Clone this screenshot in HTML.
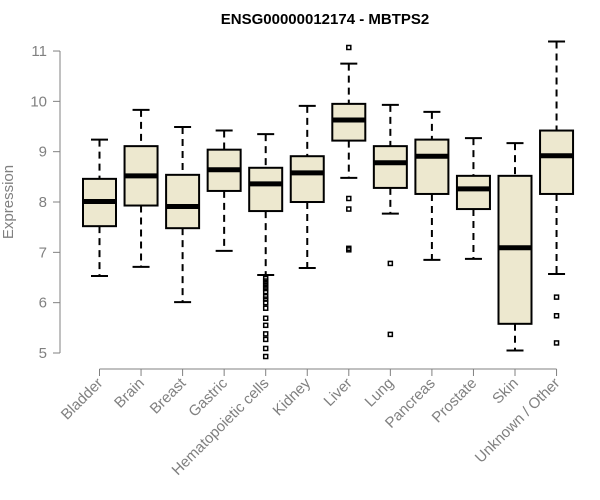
<!DOCTYPE html>
<html><head><meta charset="utf-8"><style>
body{margin:0;background:#fff;}
svg{display:block;font-family:"Liberation Sans",Arial,sans-serif;}
</style></head><body>
<svg id="chart" width="600" height="500" viewBox="0 0 600 500">
<text x="325" y="24" text-anchor="middle" font-size="15" font-weight="bold" fill="#000">ENSG00000012174 - MBTPS2</text>
<text transform="translate(13,202) rotate(-90)" text-anchor="middle" font-size="15" fill="#808080">Expression</text>
<g id="plot"></g>
</svg>
<script>
const categories=["Bladder","Brain","Breast","Gastric","Hematopoietic cells","Kidney","Liver","Lung","Pancreas","Prostate","Skin","Unknown / Other"];
const lowWhisker=[6.53,6.71,6.01,7.03,6.55,6.69,8.48,7.77,6.85,6.87,5.05,6.57];
const q1=[7.52,7.93,7.48,8.22,7.82,8.00,9.22,8.28,8.16,7.86,5.58,8.16];
const medians=[8.01,8.52,7.91,8.64,8.36,8.58,9.63,8.78,8.91,8.26,7.09,8.92];
const q3=[8.46,9.11,8.54,9.04,8.68,8.91,9.95,9.11,9.24,8.52,8.52,9.42];
const highWhisker=[9.24,9.83,9.49,9.42,9.35,9.91,10.75,9.93,9.79,9.27,9.17,11.19];
const outliers=[[],[],[],[],[6.48,6.43,6.38,6.33,6.28,6.22,6.12,6.07,6.00,5.89,5.69,5.55,5.38,5.27,5.09,4.93],[],[11.07,8.07,7.86,7.08,7.05],[6.78,5.37],[],[],[],[6.11,5.74,5.20]];
const yTicks=[5,6,7,8,9,10,11];

const NS="http://www.w3.org/2000/svg";
const g=document.getElementById('plot');
function yS(v){return 353-(v-5)*50.33;}
function xS(i){return 99.5+i*41.55;}
function mk(tag,attrs,parent){const e=document.createElementNS(NS,tag);for(const k in attrs)e.setAttribute(k,attrs[k]);(parent||g).appendChild(e);return e;}

// y axis
let ya=mk('line',{x1:60,x2:60,y1:yS(11),y2:yS(5),stroke:'#808080','stroke-width':1});


yTicks.forEach(t=>{
  let tk=mk('line',{x1:53,x2:60,y1:yS(t),y2:yS(t),stroke:'#808080','stroke-width':1});
  
  
  let tl=mk('text',{x:47,y:yS(t)+5,'text-anchor':'end','font-size':15,fill:'#808080'});
  tl.textContent=t;
  
  
});
// x axis
let xa=mk('line',{x1:xS(0),x2:xS(categories.length-1),y1:369,y2:369,stroke:'#808080','stroke-width':1});


categories.forEach((c,i)=>{
  const x=xS(i);
  let tk=mk('line',{x1:x,x2:x,y1:369,y2:376,stroke:'#808080','stroke-width':1});
  
  
  let tl=mk('text',{x:x+4,y:384,'text-anchor':'end','font-size':15,fill:'#808080',transform:`rotate(-45 ${x+4} 384)`});
  tl.textContent=c;
  
  

  const bg=mk('g',{});
  
  
  const hw=16.5,cw=8.5;
  mk('line',{x1:x,x2:x,y1:yS(highWhisker[i]),y2:yS(q3[i]),stroke:'#000','stroke-width':2,'stroke-dasharray':'7,5'},bg);
  mk('line',{x1:x,x2:x,y1:yS(q1[i]),y2:yS(lowWhisker[i]),stroke:'#000','stroke-width':2,'stroke-dasharray':'7,5'},bg);
  mk('line',{x1:x-cw,x2:x+cw,y1:yS(highWhisker[i]),y2:yS(highWhisker[i]),stroke:'#000','stroke-width':2},bg);
  mk('line',{x1:x-cw,x2:x+cw,y1:yS(lowWhisker[i]),y2:yS(lowWhisker[i]),stroke:'#000','stroke-width':2},bg);
  mk('rect',{x:x-hw,y:yS(q3[i]),width:hw*2,height:yS(q1[i])-yS(q3[i]),fill:'#ede8cf',stroke:'#000','stroke-width':2},bg);
  mk('line',{x1:x-hw,x2:x+hw,y1:yS(medians[i]),y2:yS(medians[i]),stroke:'#000','stroke-width':5},bg);
  outliers[i].forEach(o=>{
    let p=mk('rect',{x:x-2,y:yS(o)-2,width:4,height:4,fill:'none',stroke:'#000','stroke-width':1.5},bg);
    
    
  });
});
</script>
</body></html>
